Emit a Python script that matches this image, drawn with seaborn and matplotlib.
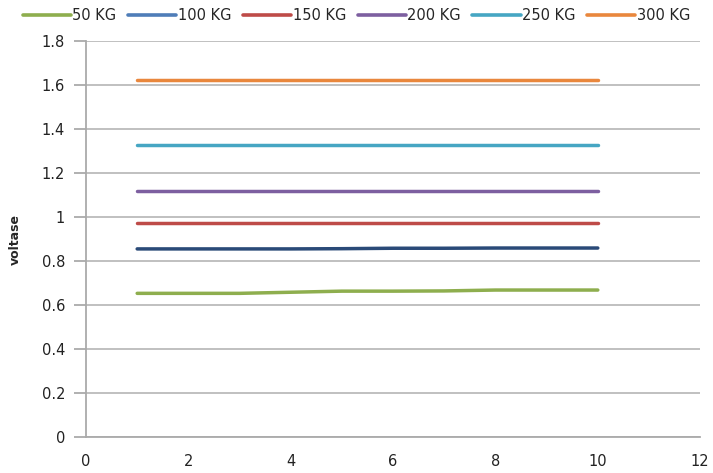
import pandas as pd
import seaborn as sns
import matplotlib.pyplot as plt

# data
x_vals = [1, 2, 3, 4, 5, 6, 7, 8, 9, 10]
kg_50 = [0.653, 0.653, 0.653, 0.658, 0.663, 0.663, 0.664, 0.668, 0.668, 0.668]
kg_100 = [0.855, 0.855, 0.855, 0.855, 0.856, 0.858, 0.858, 0.859, 0.859, 0.859]
kg_150 = [0.973] * 10
kg_200 = [1.118] * 10
kg_250 = [1.326] * 10
kg_300 = [1.623] * 10

series_names = ["50 KG", "100 KG", "150 KG", "200 KG", "250 KG", "300 KG"]
series_vals = [kg_50, kg_100, kg_150, kg_200, kg_250, kg_300]
colors = ["#8EAE4E", "#2A4A78", "#BE4B48", "#7D5FA0", "#46A6C3", "#E9873D"]
legend_colors = ["#8EAE4E", "#4F7DB8", "#BE4B48", "#7D5FA0", "#46A6C3", "#E9873D"]

rows = []
for name, vals in zip(series_names, series_vals):
    for x, v in zip(x_vals, vals):
        rows.append({"x": x, "voltase": v, "load": name})
df = pd.DataFrame(rows)

sns.set_style("white")
fig = plt.figure(figsize=(7.13, 4.73), dpi=100)
ax = fig.add_axes([0.1206, 0.0761, 0.8614, 0.8372])

sns.lineplot(data=df, x="x", y="voltase", hue="load", hue_order=series_names,
             palette=colors, linewidth=2.5, ax=ax, legend=False)

ax.set_xlim(0, 12)
ax.set_ylim(0, 1.8)
ax.set_xticks(range(0, 13, 2))
ax.set_yticks([i * 0.2 for i in range(10)])
ax.set_yticklabels(["0", "0.2", "0.4", "0.6", "0.8", "1", "1.2", "1.4", "1.6", "1.8"])
ax.yaxis.grid(True, color="#BBBBBB", linewidth=1.3)
ax.set_axisbelow(True)
for s in ["top", "right"]:
    ax.spines[s].set_visible(False)
for s in ["left", "bottom"]:
    ax.spines[s].set_color("#AAAAAA")
    ax.spines[s].set_linewidth(1.3)
ax.tick_params(axis="y", length=9, width=1.3, color="#AAAAAA", pad=6,
               labelsize=10.5, labelcolor="#222222", left=True)
ax.tick_params(axis="x", length=0, pad=12, labelsize=10.5, labelcolor="#222222")
ax.set_xlabel("")
ax.set_ylabel("voltase", fontsize=9, fontweight="bold", labelpad=14)

handles = [plt.Line2D([], [], color=c, linewidth=2.6) for c in legend_colors]
fig.legend(handles, series_names, loc="upper center", bbox_to_anchor=(0.5, 1.01),
           ncol=6, frameon=False, fontsize=10.5, handlelength=3.3,
           handletextpad=0.1, columnspacing=0.8)

plt.savefig("out.png", dpi=100)
